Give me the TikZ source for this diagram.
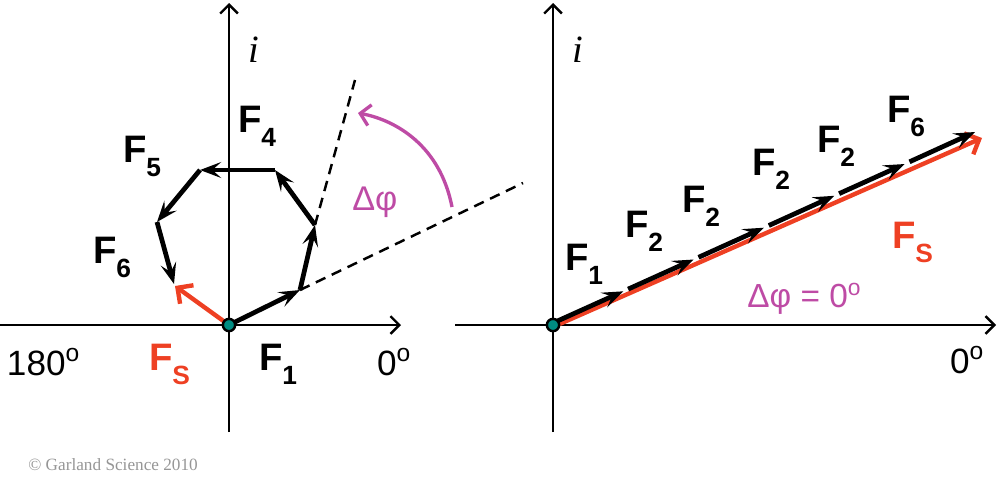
\documentclass[tikz,border=0pt]{standalone}
\usepackage{fontspec}
\setmainfont{Liberation Sans}
\newfontfamily\serifit{Liberation Serif}
\usetikzlibrary{arrows.meta}
\definecolor{fsred}{RGB}{238,64,35}
\definecolor{dmag}{RGB}{190,75,165}
\definecolor{dotteal}{RGB}{0,140,130}
\definecolor{copygray}{RGB}{150,150,150}
\newcommand{\Flab}[1]{\fontsize{21.8}{22}\selectfont\bfseries F\raisebox{-8pt}{\fontsize{15}{15}\selectfont #1}}
\newcommand{\degsup}[2]{\raisebox{#1}{\fontsize{#2}{#2}\selectfont o}}
\tikzset{
  axis/.style={line width=1.4pt, -{Straight Barb[length=5pt,width=10pt,line width=1.4pt]}},
  vec/.style={line width=2.7pt, -{Stealth[length=12pt,width=9pt,inset=5pt]}},
  redvec/.style={line width=2.5pt, fsred, -{Straight Barb[length=6.5pt,width=13pt,line width=2.5pt]}},
  dashline/.style={line width=1.4pt, dash pattern=on 6pt off 4pt},
  flabel/.style={anchor=base west, inner sep=0pt, outer sep=0pt},
  plain/.style={anchor=base west, inner sep=0pt, outer sep=0pt, font=\fontsize{20}{20}\selectfont},
  dotnode/.style={circle, fill=dotteal, draw=black, line width=1.4pt, minimum size=7pt, inner sep=0pt},
}
\begin{document}
\begin{tikzpicture}[x=0.02cm, y=-0.02cm]
\useasboundingbox (0,0) rectangle (1000,484);

% ---------------- left panel ----------------
\coordinate (lxs) at (0,325);
\coordinate (lxe) at (401,325);
\coordinate (lys) at (229,432);
\coordinate (lye) at (229,3);
\draw[axis] (lxs) -- (lxe);
\draw[axis] (lys) -- (lye);

\coordinate (O) at (229,325);
\coordinate (V1) at (300,290);
\coordinate (V2) at (315,225);
\coordinate (V3) at (275,170);
\coordinate (V4) at (200,170);
\coordinate (V5) at (157,222);
\coordinate (V6) at (174,284);
\coordinate (FsL) at (175,286);
\coordinate (D1) at (523,183);
\coordinate (D2) at (355,80);

\draw[dashline] (V1) -- (D1);
\draw[dashline] (V2) -- (D2);

\draw[vec] (O) -- (V1);
\draw[vec] (V1) -- (V2);
\draw[vec] (V2) -- (V3);
\draw[vec] (V3) -- (V4);
\draw[vec] (V4) -- (V5);
\draw[vec] (V5) -- (V6);
\draw[redvec] (O) -- (FsL);

\coordinate (arcS) at (452,207);
\coordinate (arcE) at (358,113);
\draw[dmag, line width=1.9pt, -{Straight Barb[length=5.5pt,width=12pt,line width=1.9pt]}]
  (arcS) .. controls (440,145) and (395,120) .. (arcE);

\node[dotnode] (dotL) at (O) {};

\node[flabel] (lF4) at (238,132) {\Flab{4}};
\node[flabel] (lF5) at (123,162) {\Flab{5}};
\node[flabel] (lF6) at (93,263) {\Flab{6}};
\node[flabel] (lF1) at (259,370) {\Flab{1}};
\node[flabel, text=fsred] (lFs) at (149,370) {\Flab{S}};
\node[plain] (l180) at (7,375) {180\degsup{7.6pt}{14}};
\node[plain] (l0) at (377,375) {0\degsup{7.6pt}{14}};
\node[anchor=base west, inner sep=0pt, text=dmag, font=\fontsize{19.5}{20}\selectfont] (ldphi) at (352,210) {Δφ};
\node[anchor=base west, inner sep=0pt, font=\serifit\itshape\fontsize{22}{22}\selectfont] (li) at (248,62) {i};
\node[anchor=base west, inner sep=0pt, text=copygray, font=\serifit\fontsize{9.8}{10}\selectfont] (copy) at (28,470) {© Garland Science 2010};

% ---------------- right panel ----------------
\coordinate (rxs) at (455,325);
\coordinate (rxe) at (996,325);
\coordinate (rys) at (553,432);
\coordinate (rye) at (553,3);
\draw[axis] (rxs) -- (rxe);
\draw[axis] (rys) -- (rye);

\coordinate (P0) at (553,323);
\coordinate (P1) at (623.3,291.3);
\coordinate (P2) at (693.7,259.5);
\coordinate (P3) at (764,227.7);
\coordinate (P4) at (834.3,195.8);
\coordinate (P5) at (904.7,164);
\coordinate (P6) at (975,132);
\coordinate (R0) at (555,326);
\coordinate (R1) at (982,138);

\draw[redvec] (R0) -- (R1);
\draw[vec] (P0) -- (P1);
\draw[vec, shorten <=3pt] (P1) -- (P2);
\draw[vec, shorten <=3pt] (P2) -- (P3);
\draw[vec, shorten <=3pt] (P3) -- (P4);
\draw[vec, shorten <=3pt] (P4) -- (P5);
\draw[vec, shorten <=3pt] (P5) -- (P6);

\node[dotnode] (dotR) at (553,325) {};

\node[flabel] (rF1) at (565,270) {\Flab{1}};
\node[flabel] (rF2a) at (625,237) {\Flab{2}};
\node[flabel] (rF2b) at (682,212) {\Flab{2}};
\node[flabel] (rF2c) at (752,175) {\Flab{2}};
\node[flabel] (rF2d) at (817,152) {\Flab{2}};
\node[flabel] (rF6) at (887,122) {\Flab{6}};
\node[flabel, text=fsred] (rFs) at (892,248) {\Flab{S}};
\node[plain] (r0) at (950,373) {0\degsup{7.6pt}{14}};
\node[anchor=base west, inner sep=0pt, text=dmag, font=\fontsize{19}{19}\selectfont] (rdphi) at (747,307) {Δφ = 0\degsup{6.8pt}{13}};
\node[anchor=base west, inner sep=0pt, font=\serifit\itshape\fontsize{22}{22}\selectfont] (ri) at (572,62) {i};
\end{tikzpicture}
\end{document}
